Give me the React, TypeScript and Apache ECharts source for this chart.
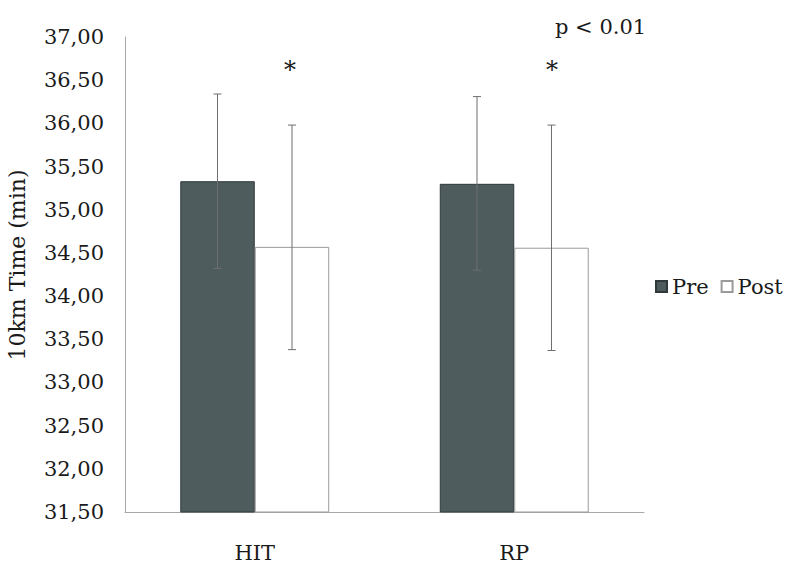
import React, { useEffect, useRef } from "react";
import * as echarts from "echarts";

const categories = ["HIT", "RP"];
const preValues = [35.33, 35.30];
const postValues = [34.57, 34.56];
const preLow = [34.32, 34.30];
const preHigh = [36.34, 36.31];
const postLow = [33.38, 33.37];
const postHigh = [35.98, 35.98];
const yMin = 31.5;
const yMax = 37;
const yInterval = 0.5;

const FONT = "DejaVu Serif";
const TEXT = "#1a1a1a";
const BAR_W = 0.287;

function errorSeries(name: string, low: number[], high: number[], side: number) {
  return {
    type: "custom",
    name,
    silent: true,
    z: 5,
    data: low.map((l, i) => [i, l, high[i]]),
    encode: { x: 0, y: [1, 2] },
    renderItem: (params: any, api: any) => {
      const idx = api.value(0);
      const top = api.coord([idx, api.value(2)]);
      const bot = api.coord([idx, api.value(1)]);
      const band = api.size([1, 0])[0];
      const x = top[0] + (side * band * BAR_W) / 2;
      const cap = 4;
      const style = { stroke: "#6e6e6e", lineWidth: 1 };
      return {
        type: "group",
        children: [
          { type: "line", shape: { x1: x, y1: top[1], x2: x, y2: bot[1] }, style },
          { type: "line", shape: { x1: x - cap, y1: top[1], x2: x + cap, y2: top[1] }, style },
          { type: "line", shape: { x1: x - cap, y1: bot[1], x2: x + cap, y2: bot[1] }, style },
        ],
      };
    },
  };
}

export default function App() {
  const ref = useRef<HTMLDivElement>(null);
  useEffect(() => {
    if (!ref.current) return;
    const chart = echarts.init(ref.current, null, { renderer: "svg" });
    chart.setOption({
      animation: false,
      backgroundColor: "#ffffff",
      grid: { left: 125, right: 150, top: 37, bottom: 68 },
      legend: {
        data: ["Pre", "Post"],
        left: 650,
        top: 271,
        orient: "horizontal",
        itemWidth: 11,
        itemHeight: 11,
        itemGap: 12,
        icon: "rect",
        textStyle: { fontFamily: FONT, fontSize: 21, color: TEXT },
      },
      xAxis: {
        type: "category",
        data: categories,
        axisLine: { lineStyle: { color: "#a8a8a8", width: 1 } },
        axisTick: { show: false },
        axisLabel: { fontFamily: FONT, fontSize: 21, color: TEXT, margin: 30 },
      },
      yAxis: {
        type: "value",
        min: yMin,
        max: yMax,
        interval: yInterval,
        axisLine: { show: true, lineStyle: { color: "#a8a8a8", width: 1 } },
        axisTick: { show: false },
        splitLine: { show: false },
        axisLabel: {
          fontFamily: FONT,
          fontSize: 21,
          color: TEXT,
          margin: 21,
          padding: [0, 0, 6, 0],
          formatter: (v: number) => v.toFixed(2).replace(".", ","),
        },
      },
      series: [
        {
          type: "bar",
          name: "Pre",
          data: preValues,
          barWidth: (BAR_W * 100).toFixed(1) + "%",
          barGap: "0%",
          itemStyle: { color: "#4e5c5e", borderColor: "#2f393a", borderWidth: 1 },
        },
        {
          type: "bar",
          name: "Post",
          data: postValues,
          barWidth: (BAR_W * 100).toFixed(1) + "%",
          barGap: "0%",
          itemStyle: { color: "#ffffff", borderColor: "#9a9a9a", borderWidth: 1 },
        },
        errorSeries("PreErr", preLow, preHigh, -1),
        errorSeries("PostErr", postLow, postHigh, 1),
      ],
      graphic: [
        {
          type: "text",
          x: 17,
          y: 265,
          rotation: Math.PI / 2,
          style: {
            text: "10km Time (min)",
            fontFamily: FONT,
            fontSize: 22,
            fill: TEXT,
            align: "center",
            verticalAlign: "middle",
          },
        },
        {
          type: "text",
          x: 555,
          y: 27,
          style: {
            text: "p < 0.01",
            fontFamily: FONT,
            fontSize: 21,
            fill: TEXT,
            align: "left",
            verticalAlign: "middle",
          },
        },
        {
          type: "text",
          x: 290,
          y: 70,
          style: { text: "*", fontFamily: FONT, fontSize: 24, fill: TEXT, align: "center", verticalAlign: "middle" },
        },
        {
          type: "text",
          x: 552,
          y: 70,
          style: { text: "*", fontFamily: FONT, fontSize: 24, fill: TEXT, align: "center", verticalAlign: "middle" },
        },
      ],
    });
    return () => chart.dispose();
  }, []);
  return (
    <div
      ref={ref}
      style={{ position: "absolute", left: 0, top: 0, width: 794, height: 580 }}
    />
  );
}
